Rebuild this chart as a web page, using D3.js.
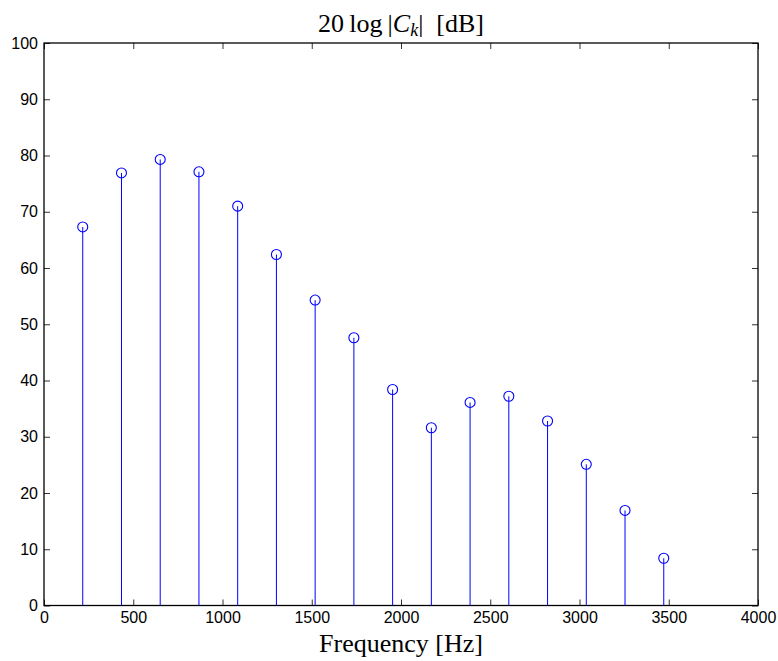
<!DOCTYPE html>
<html>
<head>
<meta charset="utf-8">
<script src="https://cdn.jsdelivr.net/npm/d3@7"></script>
<style>
  html, body { margin: 0; padding: 0; background: #fff; }
  svg { display: block; }
  .tick text { font-family: "Liberation Sans", Arial, sans-serif; font-size: 16px; fill: #000; }
</style>
</head>
<body>
<svg id="chart" width="778" height="661"></svg>
<script>
// Harmonic frequencies (Hz) and magnitudes (dB)
const frequencies = [217, 434, 651, 868, 1085, 1302, 1519, 1736, 1953, 2170, 2387, 2604, 2821, 3038, 3255, 3472];
const magnitudes  = [67.3, 76.9, 79.3, 77.1, 71.0, 62.4, 54.3, 47.6, 38.4, 31.6, 36.1, 37.2, 32.8, 25.1, 16.9, 8.4];
const xTicks = [0, 500, 1000, 1500, 2000, 2500, 3000, 3500, 4000];
const yTicks = [0, 10, 20, 30, 40, 50, 60, 70, 80, 90, 100];

const svg = d3.select("#chart");
const m = { left: 44, top: 43, right: 758, bottom: 605.5 };

const x = d3.scaleLinear().domain([0, 4000]).range([m.left, m.right]);
const y = d3.scaleLinear().domain([0, 100]).range([m.bottom, m.top]);

const tickLen = 6;
const fmt = d3.format("d");

// Axes: ticks point inward, mirrored on top and right
svg.append("g")
  .attr("transform", `translate(0,${m.bottom})`)
  .call(d3.axisBottom(x).tickValues(xTicks).tickFormat(fmt).tickSizeInner(-tickLen).tickSizeOuter(0).tickPadding(6))
  .call(g => g.select(".domain").remove());
svg.append("g")
  .attr("transform", `translate(0,${m.top})`)
  .call(d3.axisTop(x).tickValues(xTicks).tickSizeInner(-tickLen).tickSizeOuter(0).tickFormat(""))
  .call(g => g.select(".domain").remove());
svg.append("g")
  .attr("transform", `translate(${m.left},0)`)
  .call(d3.axisLeft(y).tickValues(yTicks).tickFormat(fmt).tickSizeInner(-tickLen).tickSizeOuter(0).tickPadding(6))
  .call(g => g.select(".domain").remove());
svg.append("g")
  .attr("transform", `translate(${m.right},0)`)
  .call(d3.axisRight(y).tickValues(yTicks).tickSizeInner(-tickLen).tickSizeOuter(0).tickFormat(""))
  .call(g => g.select(".domain").remove());

svg.selectAll(".tick line").attr("stroke", "#333").attr("stroke-width", 1);

// Plot box
svg.append("rect")
  .attr("x", m.left).attr("y", m.top)
  .attr("width", m.right - m.left).attr("height", m.bottom - m.top)
  .attr("fill", "none").attr("stroke", "#000").attr("stroke-width", 1.3);

// Stems
const data = frequencies.map((f, i) => ({ f, v: magnitudes[i] }));
svg.append("g").selectAll("line")
  .data(data).join("line")
  .attr("x1", d => x(d.f)).attr("x2", d => x(d.f))
  .attr("y1", y(0)).attr("y2", d => y(d.v))
  .attr("stroke", "#0000ff").attr("stroke-width", 1);

// Markers
svg.append("g").selectAll("circle")
  .data(data).join("circle")
  .attr("cx", d => x(d.f)).attr("cy", d => y(d.v))
  .attr("r", 5)
  .attr("fill", "none").attr("stroke", "#0000ff").attr("stroke-width", 1.1);

// Title
const title = svg.append("text")
  .attr("x", (m.left + m.right) / 2).attr("y", 32)
  .attr("text-anchor", "middle")
  .attr("font-family", "'Liberation Serif', 'DejaVu Serif', serif")
  .attr("font-size", 26)
  .attr("fill", "#000");
title.append("tspan").text("20\u2009log\u2009|");
title.append("tspan").attr("font-style", "italic").text("C");
title.append("tspan").attr("font-style", "italic").attr("font-size", 18).attr("dy", 4).text("k");
title.append("tspan").attr("dy", -4).text("|\u2002[dB]");

// X label
svg.append("text")
  .attr("x", (m.left + m.right) / 2).attr("y", 652)
  .attr("text-anchor", "middle")
  .attr("font-family", "'Liberation Serif', 'DejaVu Serif', serif")
  .attr("font-size", 26)
  .attr("fill", "#000")
  .text("Frequency [Hz]");
</script>
</body>
</html>
